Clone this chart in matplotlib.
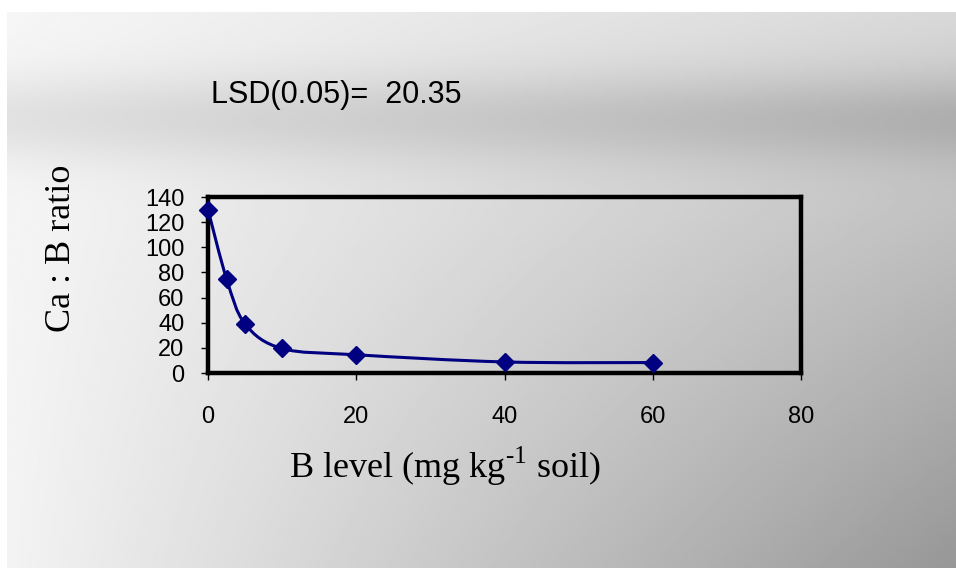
import numpy as np
import matplotlib
matplotlib.use('Agg')
import matplotlib.pyplot as plt
from matplotlib.path import Path
from matplotlib.patches import PathPatch

# data
b_level = [0, 2.5, 5, 10, 20, 40, 60]
ca_b_ratio = [130, 75, 39, 19.5, 14.5, 8.8, 8.3]
x_ticks = [0, 20, 40, 60, 80]
y_ticks = [0, 20, 40, 60, 80, 100, 120, 140]
lsd_text = 'LSD(0.05)=  20.35'

plt.rcParams['mathtext.fontset'] = 'custom'
plt.rcParams['mathtext.rm'] = 'Liberation Serif'

W, H = 956, 568
fig = plt.figure(figsize=(W / 100, H / 100), dpi=100)
fig.patch.set_facecolor('white')

# gray gradient background (slide style)
bg = fig.add_axes([7 / W, 0, (W - 7) / W, (H - 12) / H], zorder=0)
gx, gy = np.meshgrid(np.linspace(0, 1, 400), np.linspace(0, 1, 300))
img = 246 - 30 * gx - 3 * gy - 62 * gx * gy
img = img - (20 + 10 * gx) * np.exp(-((gy - 0.19) / 0.08) ** 2)
bg.imshow(img, cmap='gray', vmin=0, vmax=255, aspect='auto', interpolation='bilinear')
bg.axis('off')

ax = fig.add_axes([208 / W, 195 / H, 593 / W, 176 / H], zorder=1)
ax.set_facecolor('none')

# smoothed line (Catmull-Rom as bezier segments)
pts = np.column_stack([b_level, ca_b_ratio]).astype(float)
verts = [tuple(pts[0])]
codes = [Path.MOVETO]
n = len(pts)
for i in range(n - 1):
    p0 = pts[i - 1] if i > 0 else pts[i]
    p1, p2 = pts[i], pts[i + 1]
    p3 = pts[i + 2] if i + 2 < n else pts[i + 1]
    c1 = p1 + (p2 - p0) / 6
    c2 = p2 - (p3 - p1) / 6
    verts += [tuple(c1), tuple(c2), tuple(p2)]
    codes += [Path.CURVE4] * 3
ax.add_patch(PathPatch(Path(verts, codes), fill=False, edgecolor='#000080', lw=2.2, zorder=2))
ax.plot(b_level, ca_b_ratio, linestyle='none', marker='D', markersize=9,
        color='#000080', zorder=3, clip_on=False)

ax.set_xlim(0, 80)
ax.set_ylim(0, 140)
ax.set_xticks(x_ticks)
ax.set_yticks(y_ticks)
for s in ax.spines.values():
    s.set_linewidth(3.2)
    s.set_color('black')
ax.tick_params(direction='out', length=5, width=1, colors='black')
ax.tick_params(axis='x', pad=19)
ax.tick_params(axis='y', pad=12)
for lab in ax.get_xticklabels() + ax.get_yticklabels():
    lab.set_fontfamily('Liberation Sans')
    lab.set_fontsize(17)

fig.text(62 / W, 1 - 248 / H, 'Ca : B ratio', rotation=90, ha='center', va='center',
         fontsize=26, family='Liberation Serif')
fig.text(445 / W, 1 - 466 / H, 'B level (mg kg$^{\\text{-1}}$ soil)', ha='center',
         va='center', fontsize=26, family='Liberation Serif')
fig.text(211 / W, 1 - 95 / H, lsd_text, ha='left', va='center', fontsize=22,
         family='Liberation Sans')

fig.savefig('out.png', dpi=100)
